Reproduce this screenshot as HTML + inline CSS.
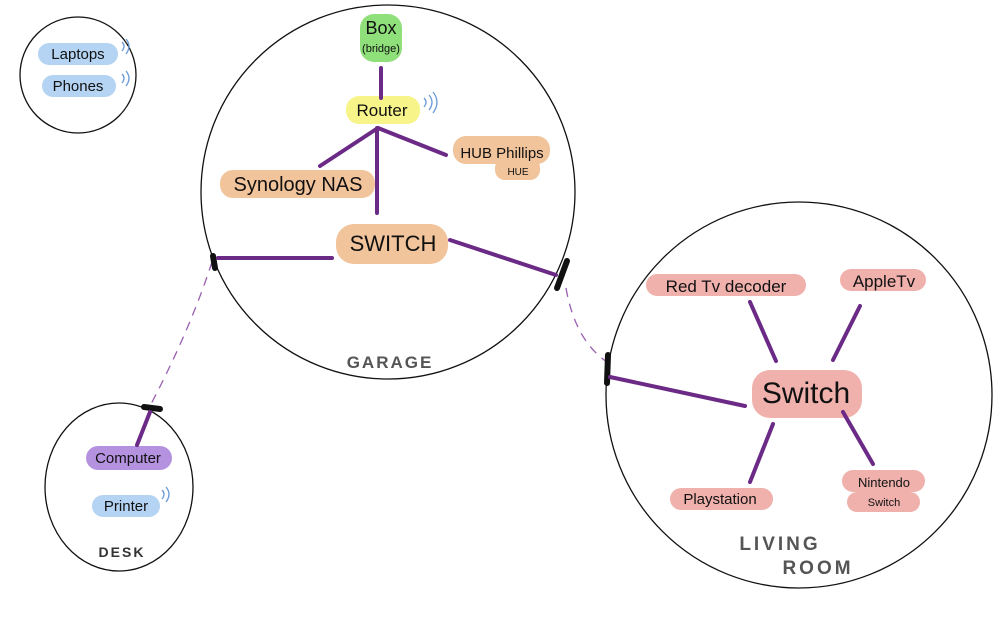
<!DOCTYPE html>
<html><head><meta charset="utf-8"><style>
html,body{margin:0;padding:0;background:#fff;width:1000px;height:620px;overflow:hidden}
svg text{font-family:"Liberation Sans",sans-serif;fill:#111}
</style></head><body>
<svg width="1000" height="620" viewBox="0 0 1000 620" xmlns="http://www.w3.org/2000/svg">
<g fill="none" stroke="#111" stroke-width="1.3">
<circle cx="78" cy="75" r="58"/>
<circle cx="388" cy="192" r="187"/>
<circle cx="799" cy="395" r="193"/>
<ellipse cx="119" cy="487" rx="74" ry="84"/>
</g>
<!-- dashed links -->
<g fill="none" stroke="#9a5fb0" stroke-width="1.3" stroke-dasharray="9,7">
<path d="M212 262 Q190 330 150 406"/>
<path d="M566 288 Q575 340 607 362"/>
</g>
<!-- black ports -->
<g stroke="#111" stroke-width="6" stroke-linecap="round">
<line x1="213" y1="256" x2="215" y2="268"/>
<line x1="567" y1="261" x2="557" y2="288"/>
<line x1="608" y1="355" x2="607" y2="383"/>
<line x1="144" y1="407" x2="160" y2="409"/>
</g>
<!-- blobs -->
<g>
<rect x="360" y="14" width="42" height="48" rx="14" fill="#8fe07a"/>
<rect x="346" y="96" width="74" height="28" rx="13" fill="#f7f58a"/>
<rect x="220" y="170" width="155" height="28" rx="13" fill="#f2c49b"/>
<rect x="453" y="136" width="97" height="28" rx="13" fill="#f2c49b"/>
<rect x="495" y="158" width="45" height="22" rx="10" fill="#f2c49b"/>
<rect x="336" y="224" width="112" height="40" rx="18" fill="#f2c49b"/>
<rect x="646" y="274" width="160" height="22" rx="11" fill="#f0b1ad"/>
<rect x="840" y="269" width="86" height="22" rx="11" fill="#f0b1ad"/>
<rect x="752" y="370" width="110" height="48" rx="18" fill="#f0b1ad"/>
<rect x="670" y="488" width="103" height="22" rx="11" fill="#f0b1ad"/>
<rect x="842" y="470" width="83" height="22" rx="11" fill="#f0b1ad"/>
<rect x="847" y="492" width="73" height="20" rx="10" fill="#f0b1ad"/>
<rect x="38" y="43" width="80" height="22" rx="11" fill="#b5d3f3"/>
<rect x="42" y="75" width="74" height="22" rx="11" fill="#b5d3f3"/>
<rect x="86" y="446" width="86" height="24" rx="12" fill="#b592e0"/>
<rect x="92" y="495" width="68" height="22" rx="11" fill="#b5d3f3"/>
</g>
<!-- purple links -->
<g stroke="#6b2a86" stroke-width="4" stroke-linecap="round" fill="none">
<line x1="381" y1="68" x2="381" y2="98"/>
<line x1="378" y1="128" x2="320" y2="166"/>
<line x1="378" y1="128" x2="446" y2="155"/>
<line x1="377" y1="128" x2="377" y2="213"/>
<line x1="218" y1="258" x2="332" y2="258"/>
<line x1="450" y1="240" x2="556" y2="275"/>
<line x1="750" y1="302" x2="776" y2="361"/>
<line x1="860" y1="306" x2="833" y2="360"/>
<line x1="610" y1="377" x2="745" y2="406"/>
<line x1="773" y1="424" x2="750" y2="482"/>
<line x1="843" y1="412" x2="873" y2="464"/>
<line x1="150" y1="412" x2="137" y2="445"/>
</g>
<!-- wifi marks -->
<g stroke="#6a9ad8" stroke-width="1.3" fill="none">
<path d="M122 42 q4 4 0 9"/><path d="M126 39 q6 7 0 15"/>
<path d="M122 74 q4 4 0 9"/><path d="M126 71 q6 7 0 15"/>
<path d="M424 98 q4 4 0 9"/><path d="M429 95 q6 7 0 15"/><path d="M433 92 q8 10 0 21"/>
<path d="M162 490 q4 4 0 9"/><path d="M166 487 q6 7 0 15"/>
</g>
<!-- labels -->
<g font-size="15">
<text x="381" y="34" text-anchor="middle" font-size="18">Box</text>
<text x="381" y="52" text-anchor="middle" font-size="11">(bridge)</text>
<text x="382" y="116" text-anchor="middle" font-size="17">Router</text>
<text x="298" y="191" text-anchor="middle" font-size="20">Synology NAS</text>
<text x="502" y="158" text-anchor="middle" font-size="15">HUB Phillips</text>
<text x="518" y="175" text-anchor="middle" font-size="10">HUE</text>
<text x="393" y="251" text-anchor="middle" font-size="22">SWITCH</text>
<text x="390" y="368" text-anchor="middle" font-size="17" font-weight="bold" fill="#555" style="fill:#555;letter-spacing:2px">GARAGE</text>
<text x="726" y="292" text-anchor="middle" font-size="17">Red Tv decoder</text>
<text x="884" y="287" text-anchor="middle" font-size="17">AppleTv</text>
<text x="806" y="403" text-anchor="middle" font-size="30">Switch</text>
<text x="720" y="504" text-anchor="middle" font-size="15">Playstation</text>
<text x="884" y="487" text-anchor="middle" font-size="13">Nintendo</text>
<text x="884" y="506" text-anchor="middle" font-size="11">Switch</text>
<text x="780" y="550" text-anchor="middle" font-size="19" font-weight="bold" style="fill:#555;letter-spacing:3px">LIVING</text>
<text x="818" y="574" text-anchor="middle" font-size="19" font-weight="bold" style="fill:#555;letter-spacing:3px">ROOM</text>
<text x="78" y="59" text-anchor="middle" font-size="15">Laptops</text>
<text x="78" y="91" text-anchor="middle" font-size="15">Phones</text>
<text x="128" y="463" text-anchor="middle" font-size="15">Computer</text>
<text x="126" y="511" text-anchor="middle" font-size="15">Printer</text>
<text x="122" y="557" text-anchor="middle" font-size="14" font-weight="bold" style="fill:#333;letter-spacing:2px">DESK</text>
</g>
</svg>
</body></html>
